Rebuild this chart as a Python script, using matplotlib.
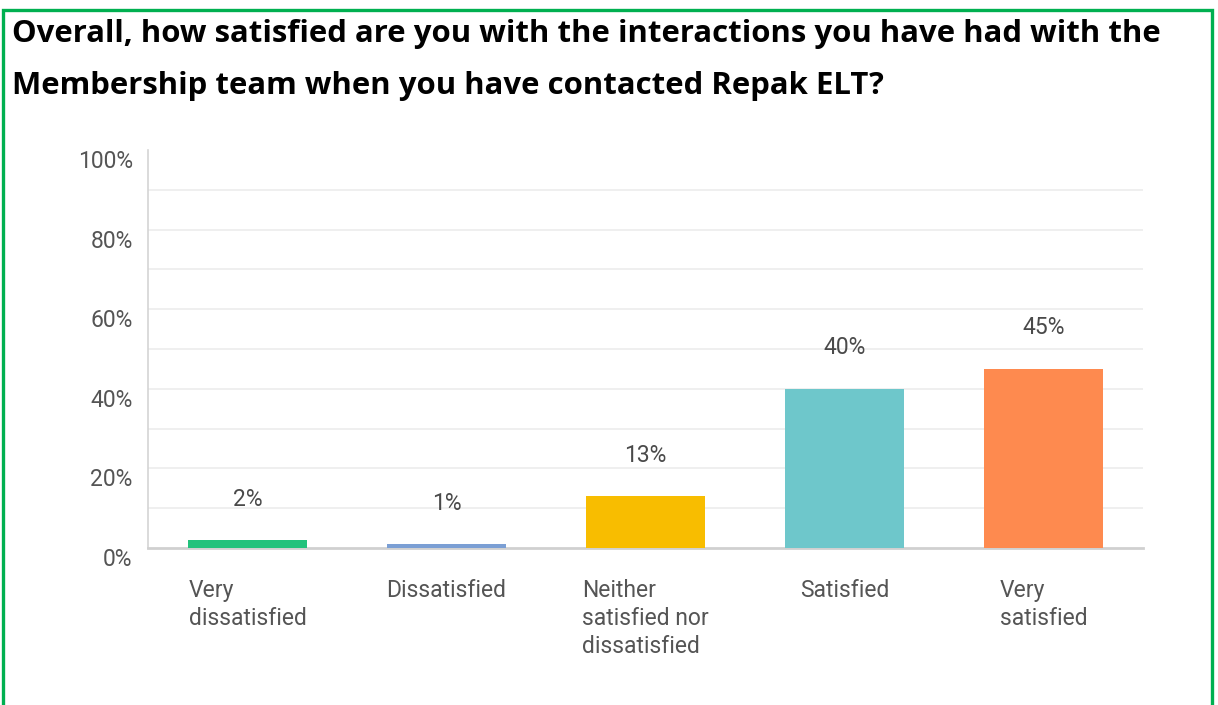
import matplotlib
matplotlib.use("Agg")
import matplotlib.pyplot as plt
from matplotlib.patches import Rectangle
from matplotlib.transforms import ScaledTranslation

# survey answers and share of respondents (%)
categories = ["Very\ndissatisfied", "Dissatisfied", "Neither\nsatisfied nor\ndissatisfied",
              "Satisfied", "Very\nsatisfied"]
shares = [2, 1, 13, 40, 45]
bar_colors = ["#22c27c", "#7b9fd4", "#f8bd00", "#6ec7cb", "#fe8a4f"]
y_ticks = [0, 20, 40, 60, 80, 100]
title_lines = ["Overall, how satisfied are you with the interactions you have had with the",
               "Membership team when you have contacted Repak ELT?"]

W, H, DPI = 1218, 705, 100
fig = plt.figure(figsize=(W / DPI, H / DPI), dpi=DPI)
plt.rcParams["font.family"] = ["Roboto", "DejaVu Sans"]

# green frame round the whole slide
fig.patches.append(Rectangle((3 / W, -0.05), 1209 / W, 1.05 - 10 / H, transform=fig.transFigure,
                             fill=False, edgecolor="#00b050", linewidth=2.4))

for i, line in enumerate(title_lines):
    fig.text(12 / W, 1 - (34 + 52 * i) / H, line, ha="left", va="center", fontsize=22.4,
             fontweight="bold", family=["Open Sans", "DejaVu Sans"], color="black")

ax = fig.add_axes([148 / W, 1 - 548 / H, 995 / W, 398 / H])
x = range(len(categories))
ax.bar(x, shares, width=0.6, color=bar_colors, zorder=3)
ax.set_xlim(-0.5, len(categories) - 0.5)
ax.set_ylim(0, 100)

for xi, v in zip(x, shares):
    ax.annotate(f"{v}%", (xi, v), xytext=(0, 29.5), textcoords="offset points",
                ha="center", va="center", fontsize=16.5, color="#4a4a4a")

ax.set_yticks(y_ticks)
ax.set_yticklabels([f"{t}%" for t in y_ticks], fontsize=16.5, color="#555555")
ax.set_yticks(range(10, 100, 20), minor=True)
ax.tick_params(axis="y", which="both", length=0, pad=11)
shift = ScaledTranslation(0, -9 / DPI, fig.dpi_scale_trans)
for lbl in ax.get_yticklabels():
    lbl.set_transform(lbl.get_transform() + shift)

ax.yaxis.grid(True, which="both", color="#ececec", linewidth=1.2, zorder=0)
ax.get_ygridlines()[-1].set_visible(False)
ax.get_ygridlines()[0].set_visible(False)

ax.set_xticks(list(x))
ax.set_xticklabels(categories, fontsize=16.5, color="#555555", multialignment="left",
                   linespacing=1.28)
ax.tick_params(axis="x", length=0, pad=22)

for side in ["top", "right"]:
    ax.spines[side].set_visible(False)
ax.spines["left"].set_color("#d4d4d4")
ax.spines["left"].set_linewidth(1.2)
ax.spines["bottom"].set_color("#d0d0d0")
ax.spines["bottom"].set_linewidth(2)

fig.savefig("out.png", dpi=DPI)
